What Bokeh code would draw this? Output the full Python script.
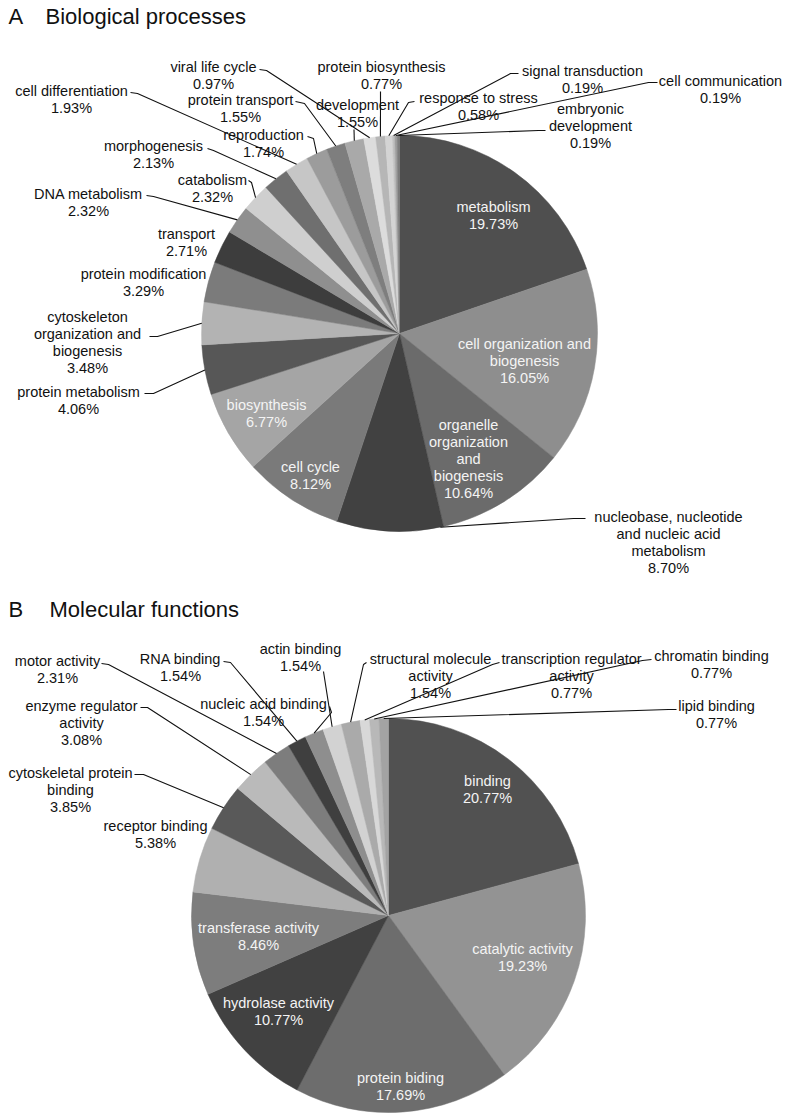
import math
from bokeh.plotting import figure
from bokeh.models import Range1d, ColumnDataSource
from bokeh.embed import file_html
from bokeh.resources import INLINE
from bokeh.core.properties import value

# ---------------- data ----------------
bp_names = ["metabolism", "cell organization and biogenesis", "organelle organization and biogenesis",
            "nucleobase, nucleotide and nucleic acid metabolism", "cell cycle", "biosynthesis",
            "protein metabolism", "cytoskeleton organization and biogenesis", "protein modification",
            "transport", "DNA metabolism", "catabolism", "morphogenesis", "cell differentiation",
            "reproduction", "protein transport", "development", "viral life cycle",
            "protein biosynthesis", "response to stress", "signal transduction",
            "cell communication", "embryonic development"]
bp_values = [19.73, 16.05, 10.64, 8.70, 8.12, 6.77, 4.06, 3.48, 3.29, 2.71, 2.32, 2.32, 2.13,
             1.93, 1.74, 1.55, 1.55, 0.97, 0.77, 0.58, 0.19, 0.19, 0.19]

mf_names = ["binding", "catalytic activity", "protein biding", "hydrolase activity",
            "transferase activity", "receptor binding", "cytoskeletal protein binding",
            "enzyme regulator activity", "motor activity", "RNA binding", "nucleic acid binding",
            "actin binding", "structural molecule activity", "transcription regulator activity",
            "chromatin binding", "lipid binding"]
mf_values = [20.77, 19.23, 17.69, 10.77, 8.46, 5.38, 3.85, 3.08, 2.31, 1.54, 1.54, 1.54, 1.54,
             0.77, 0.77, 0.77]

# ---------------- styles ----------------
bp_colors = ["#4f4f4f", "#8e8e8e", "#6b6b6b", "#414141", "#7a7a7a", "#a5a5a5", "#575757",
             "#b3b3b3", "#7b7b7b", "#3d3d3d", "#8f8f8f", "#cfcfcf", "#6f6f6f", "#c6c6c6",
             "#9c9c9c", "#7e7e7e", "#a9a9a9", "#dcdcdc", "#b6b6b6", "#d4d4d4", "#c0c0c0",
             "#a0a0a0", "#7d7d7d"]
mf_colors = ["#515151", "#939393", "#6d6d6d", "#414141", "#7d7d7d", "#b0b0b0", "#595959",
             "#bababa", "#7d7d7d", "#3f3f3f", "#8e8e8e", "#d2d2d2", "#aaaaaa", "#d8d8d8",
             "#b8b8b8", "#a3a3a3"]

# layout: label wrap, center x, first-line y (page pixels), leader points, inside flag
bp_layout = {
    "metabolism": dict(wrap=["metabolism"], cx=493, y=206, inside=True),
    "cell organization and biogenesis": dict(wrap=["cell organization and", "biogenesis"], cx=524, y=343, inside=True),
    "organelle organization and biogenesis": dict(wrap=["organelle", "organization", "and", "biogenesis"], cx=468, y=424, inside=True),
    "nucleobase, nucleotide and nucleic acid metabolism": dict(wrap=["nucleobase, nucleotide", "and nucleic acid", "metabolism"], cx=668, y=516, lead=[(585, 518), (573, 518)], t=0.03),
    "cell cycle": dict(wrap=["cell cycle"], cx=310, y=466, inside=True),
    "biosynthesis": dict(wrap=["biosynthesis"], cx=266, y=404, inside=True),
    "protein metabolism": dict(wrap=["protein metabolism"], cx=78, y=391, lead=[(144, 393), (153, 393)]),
    "cytoskeleton organization and biogenesis": dict(wrap=["cytoskeleton", "organization and", "biogenesis"], cx=87, y=316, lead=[(149, 336), (157, 336)]),
    "protein modification": dict(wrap=["protein modification"], cx=143, y=273),
    "transport": dict(wrap=["transport"], cx=186, y=233),
    "DNA metabolism": dict(wrap=["DNA metabolism"], cx=88, y=193, lead=[(146, 195), (153, 196)]),
    "catabolism": dict(wrap=["catabolism"], cx=212, y=179, lead=[(248, 180), (251, 182)]),
    "morphogenesis": dict(wrap=["morphogenesis"], cx=153, y=145, lead=[(207, 148), (213, 150)]),
    "cell differentiation": dict(wrap=["cell differentiation"], cx=71, y=90, lead=[(130, 92), (137, 93)]),
    "reproduction": dict(wrap=["reproduction"], cx=263, y=134, lead=[(307, 136), (313, 138)]),
    "protein transport": dict(wrap=["protein transport"], cx=240, y=99, lead=[(295, 101), (304, 103)]),
    "development": dict(wrap=["development"], cx=357, y=104, lead=[(353.5, 129)]),
    "viral life cycle": dict(wrap=["viral life cycle"], cx=213, y=66, lead=[(259, 69), (266, 70)]),
    "protein biosynthesis": dict(wrap=["protein biosynthesis"], cx=381, y=66, lead=[(380, 91)]),
    "response to stress": dict(wrap=["response to stress"], cx=478, y=97, lead=[(414, 101), (408, 102)]),
    "signal transduction": dict(wrap=["signal transduction"], cx=582, y=70, lead=[(518, 73), (510, 73)]),
    "cell communication": dict(wrap=["cell communication"], cx=720, y=80, lead=[(657, 82), (648, 82)]),
    "embryonic development": dict(wrap=["embryonic", "development"], cx=590, y=108, lead=[(545, 130), (538, 130)]),
}
mf_layout = {
    "binding": dict(wrap=["binding"], cx=487, y=780, inside=True),
    "catalytic activity": dict(wrap=["catalytic activity"], cx=522, y=948, inside=True),
    "protein biding": dict(wrap=["protein biding"], cx=400, y=1077, inside=True),
    "hydrolase activity": dict(wrap=["hydrolase activity"], cx=278, y=1002, inside=True),
    "transferase activity": dict(wrap=["transferase activity"], cx=258, y=927, inside=True),
    "receptor binding": dict(wrap=["receptor binding"], cx=155, y=825),
    "cytoskeletal protein binding": dict(wrap=["cytoskeletal protein", "binding"], cx=70, y=772, lead=[(134, 774), (143, 774)]),
    "enzyme regulator activity": dict(wrap=["enzyme regulator", "activity"], cx=81, y=705, lead=[(140, 707), (147, 707)]),
    "motor activity": dict(wrap=["motor activity"], cx=57, y=660, lead=[(101, 663), (108, 664)]),
    "RNA binding": dict(wrap=["RNA binding"], cx=180, y=658, lead=[(223, 661), (230, 662)]),
    "nucleic acid binding": dict(wrap=["nucleic acid binding"], cx=263, y=703, lead=[(329, 706), (331, 712)]),
    "actin binding": dict(wrap=["actin binding"], cx=300, y=648, lead=[(323, 671)]),
    "structural molecule activity": dict(wrap=["structural molecule", "activity"], cx=430, y=658, lead=[(366, 662), (363, 664)]),
    "transcription regulator activity": dict(wrap=["transcription regulator", "activity"], cx=571, y=658, lead=[(499, 662), (492, 664)]),
    "chromatin binding": dict(wrap=["chromatin binding"], cx=711, y=655, lead=[(651, 659), (642, 660)]),
    "lipid binding": dict(wrap=["lipid binding"], cx=716, y=705, lead=[(676, 709), (668, 709)]),
}

W, H = 790, 1116
FONT = "Liberation Sans"
FS = "14.5px"
LH = 17


def Y(py):
    return H - py


p = figure(width=W, height=H, x_range=Range1d(0, W), y_range=Range1d(0, H),
           output_backend="svg", toolbar_location=None, min_border=0)
p.axis.visible = False
p.grid.visible = False
p.outline_line_color = None
p.background_fill_color = "white"


def draw_pie(names, values, colors, layout, pcx, pcy, r):
    total = float(sum(values))
    cum = 0.0
    wx, wy, ws, we, wc = [], [], [], [], []
    tx, ty, tt, tcol = [], [], [], []
    lxs, lys = [], []
    for n, v, c in zip(names, values, colors):
        f0 = cum / total
        f1 = (cum + v) / total
        cum += v
        wx.append(pcx)
        wy.append(Y(pcy))
        ws.append(math.pi / 2 - 2 * math.pi * f1)
        we.append(math.pi / 2 - 2 * math.pi * f0)
        wc.append(c)
        lay = layout[n]
        lines = lay["wrap"] + ["%.2f%%" % v]
        for i, s in enumerate(lines):
            tx.append(lay["cx"])
            ty.append(Y(lay["y"] + i * LH))
            tt.append(s)
            tcol.append("#f4f4f4" if lay.get("inside") else "#111111")
        if "lead" in lay:
            t = lay.get("t", 0.5)
            fm = f0 + t * (f1 - f0)
            ang = 2 * math.pi * fm
            ex = pcx + r * math.sin(ang)
            ey = pcy - r * math.cos(ang)
            pts = lay["lead"] + [(ex, ey)]
            lxs.append([q[0] for q in pts])
            lys.append([Y(q[1]) for q in pts])
    src = ColumnDataSource(dict(x=wx, y=wy, s=ws, e=we, c=wc))
    p.wedge(x="x", y="y", radius=r, start_angle="s", end_angle="e", direction="anticlock",
            fill_color="c", line_color="c", line_width=0.5, source=src)
    p.multi_line(xs=lxs, ys=lys, line_color="#111111", line_width=1.1)
    tsrc = ColumnDataSource(dict(x=tx, y=ty, t=tt, c=tcol))
    p.text(x="x", y="y", text="t", text_color="c", text_font=value(FONT), text_font_size=FS,
           text_align="center", text_baseline="middle", source=tsrc)


draw_pie(bp_names, bp_values, bp_colors, bp_layout, 399, 333, 198)
draw_pie(mf_names, mf_values, mf_colors, mf_layout, 388, 915, 197)

# panel titles
p.text(x=[8, 8], y=[Y(16), Y(609)], text=["A", "B"], text_font=value(FONT), text_font_size="22px",
       text_align="left", text_baseline="middle", text_color="#111111")
p.text(x=[45, 49], y=[Y(16), Y(609)], text=["Biological processes", "Molecular functions"],
       text_font=value(FONT), text_font_size="22px", text_align="left", text_baseline="middle",
       text_color="#111111")

open("out.html", "w").write(file_html(p, INLINE))
